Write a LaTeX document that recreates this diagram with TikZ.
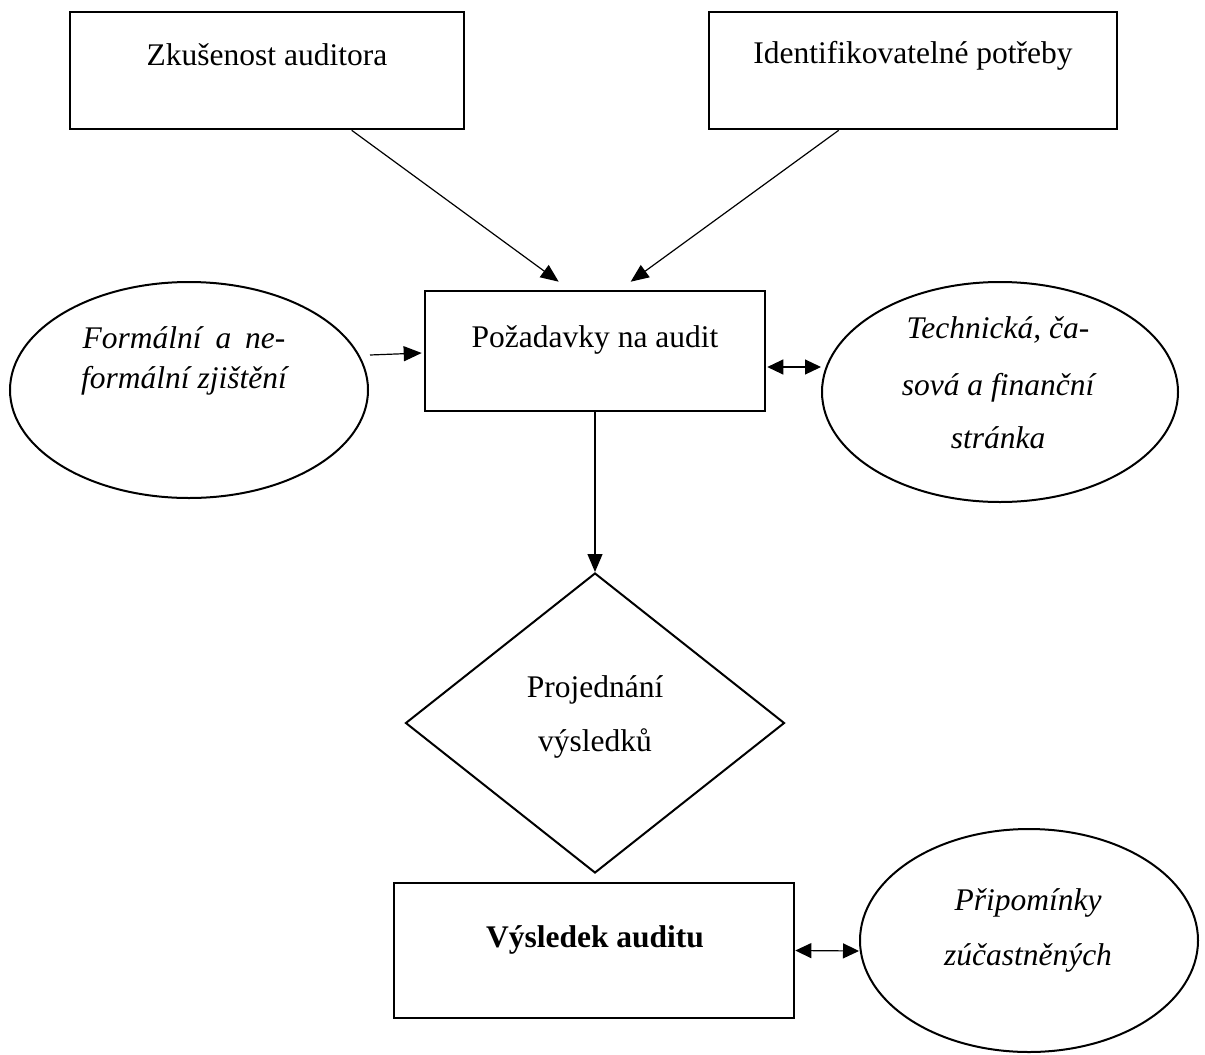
\documentclass[tikz,border=0pt]{standalone}
\usepackage{fontspec}
\setmainfont{Liberation Serif}
\usetikzlibrary{shapes.geometric,arrows.meta,calc}
\tikzset{
  boxnode/.style={draw, rectangle, line width=2.6pt, inner sep=0pt},
  ellnode/.style={draw, ellipse, line width=2pt, inner sep=0pt},
  dianode/.style={draw, diamond, line width=2pt, inner sep=0pt},
  txt/.style={anchor=base, inner sep=0pt, font=\fontsize{31.5}{38}\selectfont},
  itxt/.style={txt, font=\fontsize{31.5}{38}\selectfont\itshape},
  arr/.style={line width=1.2pt, -{Triangle[length=18pt,width=15pt]}},
  darr/.style={line width=1.2pt, {Triangle[length=16pt,width=15pt]}-{Triangle[length=16pt,width=15pt]}}
}
\begin{document}
\begin{tikzpicture}[x=1pt,y=-1pt]
\useasboundingbox (0,0) rectangle (1205,1055);
% shapes
\node[boxnode, minimum width=394pt, minimum height=117pt] (tl) at (267,70.5) {};
\node[boxnode, minimum width=408pt, minimum height=117pt] (tr) at (913,70.5) {};
\node[boxnode, minimum width=340pt, minimum height=120pt] (req) at (595,351) {};
\node[ellnode, minimum width=358pt, minimum height=216pt] (el) at (189,390) {};
\node[ellnode, minimum width=356pt, minimum height=220pt] (er) at (1000,392) {};
\node[dianode, minimum width=379pt, minimum height=300pt] (dia) at (595,723) {};
\node[boxnode, minimum width=400pt, minimum height=135pt] (res) at (594,950.5) {};
\node[ellnode, minimum width=338pt, minimum height=223pt] (eb) at (1029,940.5) {};
% texts
\node[txt] (ttl) at (267,65) {Zkušenost auditora};
\node[txt] (ttr) at (913,63) {Identifikovatelné potřeby};
\node[txt] (treq) at (595,347) {Požadavky na audit};
\node[itxt] (tel1) at (184,348) {Formální\hspace{14pt}a\hspace{14pt}ne-};
\node[itxt] (tel2) at (184,388) {formální zjištění};
\node[itxt] (ter1) at (998,338) {Technická, ča-};
\node[itxt] (ter2) at (998,395) {sová a finanční};
\node[itxt] (ter3) at (998,448) {stránka};
\node[txt] (tdia1) at (595,697) {Projednání};
\node[txt] (tdia2) at (595,751) {výsledků};
\node[txt, font=\fontsize{31.5}{38}\selectfont\bfseries] (tres) at (595,947) {Výsledek auditu};
\node[itxt] (teb1) at (1028,910) {Připomínky};
\node[itxt] (teb2) at (1028,965) {zúčastněných};
% connectors
\draw[arr] ($(tl.south west)+(283,0)$) -- ($(req.north west)+(135,-8)$);
\draw[arr] ($(tr.south west)+(131,0)$) -- ($(req.north west)+(207,-8)$);
\draw[arr] ($(el.east)+(1,-35)$) -- ($(req.west)+(-2,2)$);
\draw[darr] ($(req.east)+(1,16)$) -- ($(er.west)+(0,-25)$);
\draw[arr] (req.south) -- (dia.north);
\draw[darr] (res.east) -- ($(eb.west)+(0,10.5)$);
\end{tikzpicture}
\end{document}
